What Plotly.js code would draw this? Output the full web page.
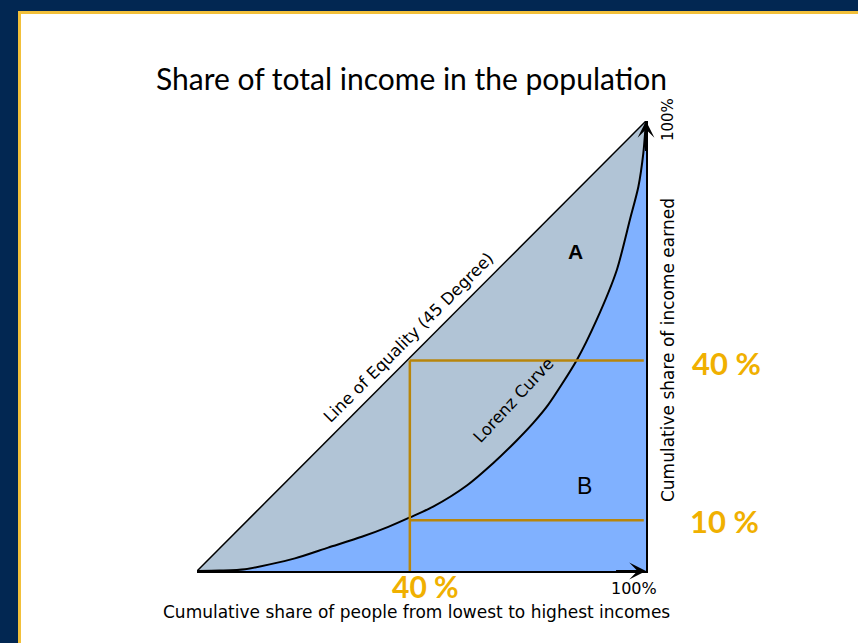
<!DOCTYPE html>
<html lang="en">
<head>
    <meta charset="UTF-8">
    <title>Lorenz Curve</title>
    <script src="https://cdn.plot.ly/plotly-3.0.1.min.js"></script>
</head>
<style>
    body{
        margin: 0;
        background-color: #022752;
        width: 858px;
        height: 643px;
        overflow: hidden;
    }
    #panel{
        position: absolute;
        left: 18px;
        top: 11px;
        right: 0;
        bottom: 0;
        background-color: white;
        border-left: 3px solid #f2c03a;
        border-top: 3px solid #f2c03a;
    }
    #myDiv{
        position: absolute;
        left: 0;
        top: 0;
        width: 858px;
        height: 643px;
    }
</style>
<body>
    <div id="panel"></div>
    <div id="myDiv"></div>
    <script>
        // line of equality
        var equalX = [0, 100]
        var equalY = [0, 100]

        // lorenz curve (share of people vs share of income)
        var lorenzX = [0, 5, 10.7, 21.8, 29.2, 36.7, 42.6, 47.4, 52.6, 60.1, 66.0, 71.2, 74.9, 78.2, 84.6, 89.0, 93.5, 96.4, 98.3, 99.4, 100]
        var lorenzY = [0, 0.1, 0.4, 2.8, 5.2, 7.6, 9.8, 11.9, 14.3, 19.0, 24.0, 29.0, 32.9, 36.9, 46.9, 55.8, 66.9, 78.0, 85.4, 92.8, 100]

        // gold guide lines
        var guideX = [47.4, 99.5]
        var guideIncome = [46.8, 11.3]
        var guideLabels = ['40 %', '10 %']
        var peopleLabel = '40 %'

        var gold = '#b8860b'
        var orange = '#f0b000'
        var dj = 'DejaVu Sans, sans-serif'

        var traces = [
            {
                x: equalX, y: equalY,
                mode: 'lines', fill: 'tozeroy',
                fillcolor: '#b1c4d6',
                line: {color: 'black', width: 1.5}
            },
            {
                x: lorenzX, y: lorenzY,
                mode: 'lines', fill: 'tozeroy',
                fillcolor: '#80b1ff',
                line: {color: 'black', width: 2, shape: 'spline', smoothing: 0.7}
            },
            {
                x: [guideX[0], guideX[0]], y: [0, guideIncome[0]],
                mode: 'lines', line: {color: gold, width: 2.5}
            },
            {
                x: guideX, y: [guideIncome[0], guideIncome[0]],
                mode: 'lines', line: {color: gold, width: 2.5}
            },
            {
                x: guideX, y: [guideIncome[1], guideIncome[1]],
                mode: 'lines', line: {color: gold, width: 2.5}
            }
        ]

        // text labels in paper coords (0..1 = plot box), always centred on their point
        function label(x, y, text, font, angle) {
            return {xref: 'paper', yref: 'paper', x: x, y: y, text: text,
                    xanchor: 'center', yanchor: 'middle', textangle: angle || 0,
                    showarrow: false, font: font}
        }
        var small = {family: dj, size: 17, color: 'black'}
        var big = {family: 'Lato, sans-serif', size: 31, color: orange}

        var annotations = [
            // arrow heads on the axes
            {x: 100, y: 0, ax: 93, ay: 0, axref: 'x', ayref: 'y', text: '',
             showarrow: true, arrowhead: 3, arrowsize: 1.4, arrowwidth: 2, arrowcolor: 'black'},
            {x: 100, y: 100, ax: 100, ay: 93, axref: 'x', ayref: 'y', text: '',
             showarrow: true, arrowhead: 3, arrowsize: 1.4, arrowwidth: 2, arrowcolor: 'black'},

            label(0.472, 0.518, 'Line of Equality (45 Degree)', {family: dj, size: 16.5, color: 'black'}, -45),
            label(0.704, 0.38, 'Lorenz Curve', {family: dj, size: 16.5, color: 'black'}, -47),
            label(0.844, 0.711, '<b>A</b>', {family: 'Liberation Sans, Arial', size: 21, color: 'black'}),
            label(0.864, 0.189, 'B', {family: 'Liberation Sans, Arial', size: 23, color: 'black'}),

            label(1.049, 1.002, '100%', {family: dj, size: 15, color: 'black'}, -90),
            label(1.049, 0.491, 'Cumulative share of income earned', small, -90),
            label(0.973, -0.038, '100%', {family: dj, size: 16, color: 'black'}),
            label(0.488, -0.091, 'Cumulative share of people from lowest to highest incomes', small),

            label(1.18, 0.462, '<b>' + guideLabels[0] + '</b>', big),
            label(1.174, 0.111, '<b>' + guideLabels[1] + '</b>', big),
            label(0.508, -0.034, '<b>' + peopleLabel + '</b>', {family: 'Lato, sans-serif', size: 30, color: orange})
        ]

        var layout =
        {
            title:
            {
                text: 'Share of total income in the population',
                font: {family: 'Lato, sans-serif', size: 30, color: 'black'},
                x: 0.4796, xanchor: 'center',
                y: 0.8756, yanchor: 'middle'
            },
            width: 858,
            height: 643,
            margin: {l: 197, r: 212, t: 121, b: 72},
            paper_bgcolor: 'rgba(0,0,0,0)',
            plot_bgcolor: 'rgba(0,0,0,0)',
            showlegend: false,
            hovermode: false,
            xaxis:
            {
                range: [0, 100],
                showgrid: false, zeroline: false, showticklabels: false, ticks: '',
                showline: true, linecolor: 'black', linewidth: 2
            },
            yaxis:
            {
                range: [0, 100], side: 'right',
                showgrid: false, zeroline: false, showticklabels: false, ticks: '',
                showline: true, linecolor: 'black', linewidth: 2
            },
            annotations: annotations
        }

        Plotly.newPlot('myDiv', traces, layout, {staticPlot: true, displayModeBar: false});
    </script>
</body>
</html>
